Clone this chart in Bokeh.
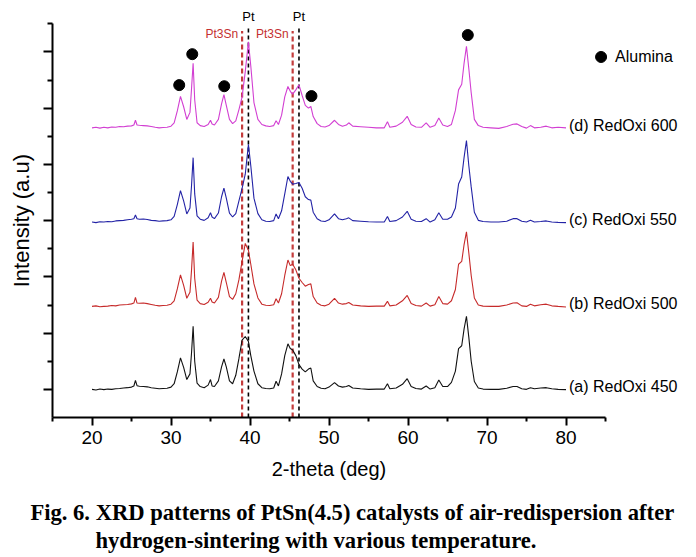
import numpy as np
from math import pi
from bokeh.plotting import figure
from bokeh.models import FixedTicker, Label, CustomJSTickFormatter
from bokeh.embed import file_html
from bokeh.resources import INLINE

# ---------------- data ----------------
two_theta = [
    20.0, 20.5, 21.0, 21.5, 22.0, 22.5, 23.0, 23.5, 24.0, 24.5,
    25.0, 25.3, 25.5, 25.7, 26.0, 26.5, 27.0, 27.5, 28.0, 28.5,
    29.0, 29.5, 30.0, 30.4, 30.8, 31.2, 31.6, 32.0, 32.4, 32.6,
    32.8, 33.0, 33.3, 33.7, 34.2, 34.7, 35.0, 35.2, 35.5, 36.0,
    36.4, 36.7, 37.0, 37.4, 37.8, 38.2, 38.6, 39.0, 39.4, 39.8,
    40.1, 40.5, 41.0, 41.5, 42.0, 42.5, 43.0, 43.3, 43.6, 44.0,
    44.4, 44.8, 45.1, 45.4, 45.8, 46.2, 46.6, 47.0, 47.4, 47.7,
    48.0, 48.5, 49.0, 49.5, 50.0, 50.7, 51.2, 51.7, 52.2, 52.5,
    53.0, 54.0, 55.0, 56.0, 57.0, 57.4, 57.7, 58.5, 59.3, 59.9,
    60.4, 61.0, 61.7, 62.3, 62.8, 63.4, 63.9, 64.4, 65.0, 65.5,
    66.0, 66.4, 66.8, 67.1, 67.4, 67.7, 68.0, 68.4, 68.9, 69.5,
    70.5, 71.5, 72.5, 73.3, 73.8, 74.4, 75.0, 75.5, 76.0, 76.8,
    77.5, 78.2, 79.0, 80.0,
]

i_450 = [
    0.00, -0.02, 0.01, -0.01, 0.01, 0.00, 0.02, 0.03, 0.05, 0.06,
    0.08, 0.12, 0.32, 0.13, 0.11, 0.10, 0.09, 0.06, 0.04, 0.02,
    0.03, 0.04, 0.08, 0.20, 0.62, 1.12, 0.78, 0.35, 0.55, 1.30,
    2.24, 1.00, 0.22, 0.10, 0.06, 0.15, 0.35, 0.12, 0.10, 0.30,
    0.80, 1.08, 0.80, 0.30, 0.20, 0.50, 1.10, 1.75, 1.88, 1.70,
    1.20, 0.65, 0.20, 0.06, 0.03, 0.02, 0.05, 0.29, 0.12, 0.55,
    1.20, 1.62, 1.45, 1.40, 1.20, 0.88, 0.72, 0.62, 0.72, 0.76,
    0.30, 0.10, 0.04, 0.02, 0.08, 0.24, 0.12, 0.08, 0.10, 0.14,
    0.05, 0.02, 0.00, 0.01, 0.01, 0.20, 0.02, 0.05, 0.18, 0.38,
    0.10, 0.03, 0.01, 0.12, 0.01, 0.06, 0.33, 0.10, 0.10, 0.25,
    0.65, 1.45, 1.55, 2.15, 2.60, 1.85, 1.00, 0.28, 0.05, 0.01,
    0.00, 0.00, 0.04, 0.10, 0.10, 0.02, 0.00, 0.06, 0.02, 0.05,
    0.06, 0.02, 0.00, -0.01,
]

i_500 = [
    0.00, 0.02, -0.01, 0.00, 0.01, 0.03, 0.02, 0.05, 0.06, 0.07,
    0.09, 0.12, 0.32, 0.12, 0.11, 0.12, 0.10, 0.07, 0.04, 0.02,
    0.03, 0.04, 0.08, 0.20, 0.62, 1.12, 0.75, 0.29, 0.50, 1.30,
    2.29, 1.00, 0.22, 0.10, 0.07, 0.15, 0.29, 0.16, 0.12, 0.32,
    0.90, 1.21, 0.85, 0.35, 0.25, 0.45, 0.95, 1.60, 2.24, 2.00,
    1.50, 0.80, 0.30, 0.08, 0.04, 0.03, 0.06, 0.27, 0.12, 0.45,
    1.10, 1.65, 1.45, 1.50, 1.30, 1.00, 0.85, 0.72, 0.78, 0.80,
    0.35, 0.12, 0.04, 0.02, 0.08, 0.29, 0.12, 0.08, 0.10, 0.14,
    0.05, 0.02, 0.00, 0.01, 0.01, 0.18, 0.02, 0.05, 0.20, 0.39,
    0.10, 0.03, 0.01, 0.12, 0.01, 0.06, 0.35, 0.10, 0.08, 0.20,
    0.60, 1.50, 1.60, 2.20, 2.65, 1.90, 1.10, 0.30, 0.05, 0.01,
    0.00, 0.00, 0.05, 0.12, 0.13, 0.02, 0.00, 0.08, 0.02, 0.06,
    0.08, 0.02, 0.00, -0.02,
]

i_550 = [
    0.00, -0.02, 0.01, 0.00, 0.02, 0.01, 0.04, 0.05, 0.06, 0.08,
    0.10, 0.12, 0.25, 0.12, 0.10, 0.11, 0.09, 0.06, 0.05, 0.03,
    0.04, 0.05, 0.08, 0.20, 0.62, 1.12, 0.75, 0.29, 0.50, 1.30,
    2.29, 1.00, 0.22, 0.10, 0.06, 0.15, 0.33, 0.18, 0.12, 0.32,
    0.90, 1.21, 0.85, 0.32, 0.18, 0.30, 0.75, 1.20, 1.70, 2.76,
    2.00, 0.85, 0.30, 0.08, 0.03, 0.02, 0.05, 0.29, 0.12, 0.40,
    1.00, 1.62, 1.45, 1.35, 1.37, 1.41, 1.20, 0.90, 0.80, 0.78,
    0.35, 0.12, 0.04, 0.02, 0.08, 0.29, 0.12, 0.08, 0.12, 0.15,
    0.05, 0.03, 0.01, 0.00, 0.00, 0.20, 0.02, 0.05, 0.18, 0.38,
    0.10, 0.03, 0.02, 0.12, 0.00, 0.08, 0.33, 0.10, 0.10, 0.18,
    0.50, 1.35, 1.60, 2.30, 2.90, 2.00, 1.25, 0.35, 0.06, 0.02,
    0.00, 0.00, 0.03, 0.12, 0.12, 0.03, 0.00, 0.06, 0.00, 0.02,
    0.04, 0.00, -0.01, -0.02,
]

i_600 = [
    0.00, 0.02, -0.01, 0.02, 0.00, 0.03, 0.02, 0.05, 0.04, 0.06,
    0.07, 0.10, 0.27, 0.10, 0.09, 0.08, 0.07, 0.05, 0.02, 0.00,
    0.01, 0.02, 0.06, 0.18, 0.60, 1.12, 0.75, 0.30, 0.55, 1.40,
    2.30, 1.00, 0.18, 0.08, 0.05, 0.12, 0.27, 0.14, 0.10, 0.30,
    0.85, 1.18, 0.80, 0.30, 0.15, 0.25, 0.65, 1.10, 2.00, 3.06,
    2.20, 0.90, 0.30, 0.12, 0.07, 0.05, 0.08, 0.25, 0.12, 0.45,
    1.10, 1.47, 1.30, 1.20, 1.35, 1.53, 1.15, 0.80, 0.70, 0.76,
    0.40, 0.15, 0.05, 0.03, 0.08, 0.27, 0.12, 0.06, 0.10, 0.18,
    0.06, 0.04, 0.02, 0.00, 0.00, 0.22, 0.02, 0.06, 0.20, 0.41,
    0.12, 0.03, 0.02, 0.18, 0.02, 0.08, 0.35, 0.10, 0.05, 0.12,
    0.62, 1.35, 1.55, 2.30, 2.90, 2.10, 1.25, 0.30, 0.08, 0.02,
    0.00, -0.02, 0.05, 0.13, 0.14, 0.05, -0.01, 0.08, 0.00, 0.02,
    0.06, 0.00, 0.02, 0.00,
]

series = [i_450, i_500, i_550, i_600]
offsets = [1.0, 3.95, 6.95, 10.3]
series_labels = ["(a) RedOxi 450", "(b) RedOxi 500", "(c) RedOxi 550", "(d) RedOxi 600"]
series_colors = ["#111111", "#c62a2a", "#2323a6", "#d23fd2"]

# reference peak positions (2-theta)
pt3sn_pos = [39.0, 45.4]
pt_pos = [39.8, 46.2]

# alumina markers (2-theta, stacked intensity)
alumina_x = [31.04, 32.69, 36.74, 47.78, 67.57]
alumina_y = [11.82, 12.92, 11.78, 11.43, 13.60]

x_ticks = [20, 30, 40, 50, 60, 70, 80]
x_minor = [15, 25, 35, 45, 55, 65, 75, 85]
y_major = [1, 3, 5, 7, 9, 11, 13]
y_minor = [2, 4, 6, 8, 10, 12, 14]

for s in series:
    assert len(s) == len(two_theta)

SANS = "Liberation Sans"
SERIF = "Liberation Serif"

# frame covers the whole canvas; the axes sit at fixed data locations
W, H = 690, 555
PX_X = 7.9      # pixels per degree
PX_Y = 28.12    # pixels per intensity unit
x0 = 15 - 52 / PX_X
y1 = 14 + 23.3 / PX_Y
p = figure(width=W, height=H,
           x_range=(x0, x0 + W / PX_X), y_range=(y1 - H / PX_Y, y1),
           output_backend="svg", toolbar_location=None,
           min_border=0, min_border_left=0, min_border_right=0,
           min_border_top=0, min_border_bottom=0)
p.outline_line_color = None
p.xgrid.visible = False
p.ygrid.visible = False
p.background_fill_color = "white"
p.border_fill_color = "white"

# x axis
xa = p.xaxis[0]
xa.fixed_location = 0
xa.bounds = (15, 85)
xa.ticker = FixedTicker(ticks=x_ticks, minor_ticks=x_minor)
xa.axis_line_width = 2
xa.major_tick_line_width = 2
xa.minor_tick_line_width = 2
xa.major_tick_in = 0
xa.major_tick_out = 8
xa.minor_tick_in = 0
xa.minor_tick_out = 4
xa.major_label_text_font = SANS
xa.major_label_text_font_size = "19px"
xa.major_label_text_color = "black"
xa.major_label_standoff = 6

# y axis
ya = p.yaxis[0]
ya.fixed_location = 15
ya.bounds = (0, 14)
ya.ticker = FixedTicker(ticks=y_major, minor_ticks=y_minor)
ya.formatter = CustomJSTickFormatter(code="return ''")
ya.axis_line_width = 2
ya.major_tick_line_width = 2
ya.minor_tick_line_width = 2
ya.major_tick_in = 0
ya.major_tick_out = 9
ya.minor_tick_in = 0
ya.minor_tick_out = 5

# reference lines
p.segment(x0=pt3sn_pos, y0=[0] * len(pt3sn_pos), x1=pt3sn_pos, y1=[13.74] * len(pt3sn_pos),
          line_color="#c43c3c", line_width=2.2, line_dash="5 3")
p.segment(x0=pt_pos, y0=[0] * len(pt_pos), x1=pt_pos, y1=[13.86] * len(pt_pos),
          line_color="black", line_width=1.6, line_dash="4 3")

# curves
x_arr = np.array(two_theta)
for vals, off, col, lab in zip(series, offsets, series_colors, series_labels):
    y = np.array(vals) + off
    p.line(x_arr, y, line_color=col, line_width=1.1)
    p.add_layout(Label(x=two_theta[-1], y=off + 0.1, x_offset=3, text=lab,
                       text_align="left", text_baseline="middle",
                       text_font=SANS, text_font_size="16px", text_color="black"))

# alumina markers and legend
p.scatter(alumina_x, alumina_y, size=11, marker="circle", color="black")
p.scatter([84.44], [12.82], size=11, marker="circle", color="black")
p.add_layout(Label(x=84.44, y=12.82, x_offset=14, text="Alumina",
                   text_align="left", text_baseline="middle",
                   text_font=SANS, text_font_size="16px", text_color="black"))

# phase labels
for xp in pt3sn_pos:
    p.add_layout(Label(x=xp, y=13.64, x_offset=-4, text="Pt3Sn", text_align="right",
                       text_baseline="middle", text_font=SANS, text_font_size="12px",
                       text_color="#c43030"))
for xp in pt_pos:
    p.add_layout(Label(x=xp, y=14.25, text="Pt", text_align="center",
                       text_baseline="middle", text_font=SANS, text_font_size="13px",
                       text_color="black"))

# axis titles
p.add_layout(Label(x=11.08, y=7.0, text="Intensity (a.u)", angle=pi / 2,
                   text_align="center", text_baseline="middle",
                   text_font=SANS, text_font_size="22px", text_color="black"))
p.add_layout(Label(x=50.0, y=-1.82, text="2-theta (deg)",
                   text_align="center", text_baseline="middle",
                   text_font=SANS, text_font_size="20px", text_color="black"))

# figure caption
p.add_layout(Label(x=12.2, y=-3.39,
                   text="Fig. 6. XRD patterns of PtSn(4.5) catalysts of air-redispersion after",
                   text_align="left", text_baseline="middle", text_font=SERIF,
                   text_font_style="bold", text_font_size="22.6px", text_color="black"))
p.add_layout(Label(x=20.44, y=-4.39,
                   text="hydrogen-sintering with various temperature.",
                   text_align="left", text_baseline="middle", text_font=SERIF,
                   text_font_style="bold", text_font_size="22.6px", text_color="black"))

open("out.html", "w").write(file_html(p, INLINE))
